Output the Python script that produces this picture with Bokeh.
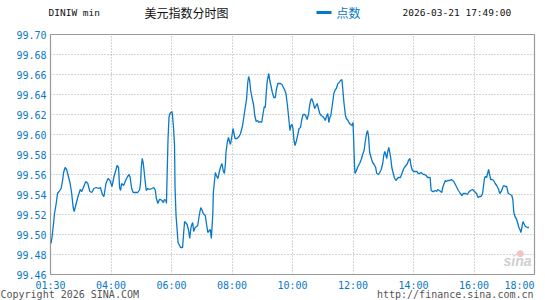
from bokeh.plotting import figure
from bokeh.layouts import column
from bokeh.models import FixedTicker, Label, Range1d, NumeralTickFormatter
from bokeh.core.properties import value
from bokeh.embed import file_html
from bokeh.resources import INLINE

# Intraday quotes of the US dollar index (DINIW), minute of day -> points
minute_of_day = [
    121, 123, 126, 128, 131, 134, 137, 141, 144, 146,
    149, 152, 156, 159, 162, 165, 167, 170, 174, 179,
    182, 186, 190, 194, 198, 202, 206, 211, 215, 219,
    223, 226, 230, 234, 238, 242, 246, 250, 252, 255,
    257, 259, 261, 265, 269, 273, 276, 278, 281, 284,
    288, 293, 297, 299, 300, 302, 304, 306, 308, 310,
    313, 317, 321, 325, 328, 330, 333, 336, 338, 341,
    344, 346, 349, 350, 351, 353, 355, 357, 359, 361,
    362, 364, 366, 367, 369, 371, 373, 375, 378, 382,
    384, 386, 388, 391, 394, 396, 399, 402, 404, 407,
    410, 412, 415, 418, 420, 423, 427, 429, 432, 435,
    437, 439, 442, 443, 445, 447, 449, 452, 455, 457,
    460, 463, 465, 467, 468, 471, 473, 475, 477, 480,
    482, 484, 486, 490, 494, 497, 501, 503, 506, 509,
    511, 513, 515, 517, 520, 523, 525, 528, 531, 533,
    536, 539, 541, 544, 546, 548, 550, 553, 555, 558,
    560, 563, 566, 568, 571, 574, 576, 579, 582, 584,
    587, 590, 592, 595, 597, 599, 601, 603, 605, 608,
    611, 613, 616, 618, 621, 624, 626, 629, 632, 634,
    636, 638, 641, 644, 646, 649, 651, 654, 657, 660,
    662, 665, 668, 670, 672, 674, 676, 678, 680, 682,
    685, 687, 690, 693, 695, 698, 700, 702, 705, 707,
    710, 712, 715, 718, 720, 721, 723, 724, 726, 729,
    732, 734, 737, 739, 742, 744, 747, 749, 751, 753,
    757, 759, 762, 765, 767, 771, 773, 776, 779, 781,
    783, 785, 787, 789, 791, 793, 795, 797, 800, 802,
    805, 808, 810, 814, 817, 820, 822, 825, 828, 830,
    833, 835, 837, 840, 843, 847, 849, 852, 855, 857,
    860, 862, 865, 868, 870, 873, 875, 878, 880, 883,
    886, 888, 891, 894, 896, 898, 900, 903, 905, 908,
    912, 915, 920, 923, 926, 929, 933, 936, 939, 943,
    947, 949, 953, 957, 961, 965, 968, 971, 974, 977,
    979, 981, 983, 985, 987, 989, 991, 993, 996, 999,
    1002, 1005, 1009, 1011, 1014, 1017, 1019, 1022, 1025, 1026,
    1028, 1032, 1035, 1037, 1039, 1042, 1044, 1047, 1049, 1051,
    1053, 1055, 1057, 1060, 1062, 1066, 1069,
]

index_points = [
    99.491, 99.497, 99.511, 99.521, 99.530, 99.541, 99.543, 99.546, 99.554, 99.562,
    99.567, 99.565, 99.557, 99.551, 99.541, 99.527, 99.523, 99.529, 99.537, 99.545,
    99.543, 99.548, 99.553, 99.551, 99.543, 99.542, 99.546, 99.547, 99.546, 99.547,
    99.540, 99.538, 99.551, 99.556, 99.554, 99.548, 99.558, 99.565, 99.569, 99.567,
    99.547, 99.544, 99.551, 99.549, 99.554, 99.558, 99.560, 99.557, 99.546, 99.542,
    99.542, 99.542, 99.545, 99.554, 99.567, 99.576, 99.571, 99.562, 99.552, 99.544,
    99.546, 99.545, 99.546, 99.547, 99.544, 99.536, 99.531, 99.535, 99.535, 99.534,
    99.532, 99.535, 99.534, 99.531, 99.552, 99.594, 99.617, 99.621, 99.622, 99.623,
    99.619, 99.607, 99.589, 99.547, 99.519, 99.506, 99.492, 99.490, 99.487, 99.487,
    99.501, 99.513, 99.512, 99.510, 99.504, 99.496, 99.508, 99.512, 99.503, 99.507,
    99.508, 99.509, 99.519, 99.527, 99.525, 99.521, 99.519, 99.512, 99.502, 99.504,
    99.505, 99.496, 99.521, 99.542, 99.552, 99.562, 99.559, 99.556, 99.563, 99.567,
    99.571, 99.563, 99.561, 99.571, 99.582, 99.593, 99.597, 99.593, 99.590, 99.599,
    99.606, 99.601, 99.596, 99.596, 99.598, 99.601, 99.609, 99.616, 99.626, 99.636,
    99.651, 99.658, 99.654, 99.644, 99.636, 99.629, 99.619, 99.613, 99.614, 99.612,
    99.613, 99.612, 99.619, 99.628, 99.627, 99.642, 99.654, 99.661, 99.654, 99.647,
    99.642, 99.637, 99.637, 99.645, 99.651, 99.651, 99.651, 99.650, 99.647, 99.645,
    99.641, 99.629, 99.619, 99.604, 99.609, 99.610, 99.606, 99.594, 99.589, 99.594,
    99.601, 99.606, 99.607, 99.614, 99.620, 99.620, 99.619, 99.615, 99.621, 99.629,
    99.634, 99.636, 99.632, 99.626, 99.628, 99.631, 99.627, 99.621, 99.619, 99.618,
    99.617, 99.614, 99.619, 99.621, 99.612, 99.617, 99.619, 99.626, 99.633, 99.641,
    99.645, 99.646, 99.651, 99.652, 99.654, 99.655, 99.644, 99.632, 99.619, 99.616,
    99.614, 99.612, 99.610, 99.609, 99.612, 99.599, 99.569, 99.561, 99.563, 99.567,
    99.570, 99.572, 99.576, 99.580, 99.584, 99.592, 99.601, 99.604, 99.597, 99.582,
    99.575, 99.572, 99.570, 99.567, 99.561, 99.560, 99.562, 99.565, 99.571, 99.579,
    99.583, 99.580, 99.576, 99.583, 99.587, 99.582, 99.576, 99.567, 99.561, 99.557,
    99.554, 99.556, 99.557, 99.557, 99.561, 99.565, 99.567, 99.569, 99.571, 99.574,
    99.576, 99.569, 99.565, 99.563, 99.563, 99.563, 99.561, 99.561, 99.562, 99.561,
    99.560, 99.560, 99.559, 99.557, 99.557, 99.557, 99.544, 99.543, 99.543, 99.544,
    99.543, 99.545, 99.544, 99.543, 99.542, 99.547, 99.550, 99.554, 99.553, 99.554,
    99.554, 99.555, 99.553, 99.550, 99.547, 99.544, 99.541, 99.539, 99.541, 99.541,
    99.540, 99.542, 99.544, 99.545, 99.543, 99.541, 99.537, 99.538, 99.538, 99.541,
    99.549, 99.557, 99.558, 99.557, 99.561, 99.565, 99.560, 99.555, 99.555, 99.554,
    99.551, 99.549, 99.545, 99.541, 99.543, 99.547, 99.549, 99.548, 99.548, 99.545,
    99.541, 99.540, 99.539, 99.535, 99.522, 99.517, 99.516, 99.511, 99.507, 99.505,
    99.502, 99.507, 99.513, 99.510, 99.508, 99.507, 99.507,
]

x_tick_minutes = [120, 240, 360, 480, 600, 720, 840, 960, 1080]
x_tick_labels = ["01:30", "04:00", "06:00", "08:00", "10:00", "12:00", "14:00", "16:00", "18:00"]
y_ticks = [99.46, 99.48, 99.50, 99.52, 99.54, 99.56, 99.58, 99.60, 99.62, 99.64, 99.66, 99.68, 99.70]

symbol = "DINIW min"
chart_title = "美元指数分时图"
series_name = "点数"
stamp = "2026-03-21 17:49:00"
copyright_text = "Copyright 2026 SINA.COM"
site_text = "http://finance.sina.com.cn"

BLUE = "#0a78c8"
MONO = "DejaVu Sans Mono"
CJK = "Noto Sans CJK SC"
W = 545
LEFT, RIGHT = 50, 11           # side margins around the plot frame
TOP, BOTTOM = 6, 5             # room for the outer y labels
HEAD_H, FOOT_H = 28, 21
MAIN_H = TOP + 240 + BOTTOM
X0, X1 = 120, 1080             # 02:00 .. 18:00 in minutes


def bare_figure(height, x_range, y_range):
    f = figure(width=W, height=height, output_backend="svg", toolbar_location=None,
               x_range=x_range, y_range=y_range,
               x_axis_location=None, y_axis_location=None, frame_align=False,
               min_border=0, min_border_left=0, min_border_right=0,
               min_border_top=0, min_border_bottom=0,
               background_fill_color="white", border_fill_color="white")
    f.outline_line_color = None
    f.grid.visible = False
    return f


# ---- header: symbol, title, legend key, timestamp (pixel-like coordinates)
head = bare_figure(HEAD_H, Range1d(0, W), Range1d(HEAD_H, 0))
head.text(x=[48], y=[12], text=[symbol], text_font=value(MONO), text_font_size="9.5px",
          text_color="#111111", text_baseline="middle")
head.text(x=[144], y=[12], text=[chart_title], text_font=value(CJK), text_font_size="12px",
          text_color="#111111", text_baseline="middle")
head.segment(x0=[316], y0=[12], x1=[331], y1=[12], line_color=BLUE, line_width=3)
head.text(x=[336], y=[12], text=[series_name], text_font=value(CJK), text_font_size="12px",
          text_color=BLUE, text_baseline="middle")
head.text(x=[402], y=[12], text=[stamp], text_font=value(MONO), text_font_size="9.5px",
          text_color="#111111", text_baseline="middle")

# ---- main plot
p = figure(
    width=W, height=MAIN_H,
    output_backend="svg", toolbar_location=None,
    x_range=Range1d(X0, X1), y_range=Range1d(99.46, 99.70),
    x_axis_location=None, frame_align=False,
    min_border_left=LEFT, min_border_right=RIGHT, min_border_top=TOP, min_border_bottom=BOTTOM,
    background_fill_color="white", border_fill_color="white",
)
p.outline_line_color = "#9a9a9a"
p.outline_line_width = 1.2

p.yaxis.ticker = FixedTicker(ticks=y_ticks)
p.yaxis.formatter = NumeralTickFormatter(format="0.00")
p.yaxis.major_label_text_color = BLUE
p.yaxis.major_label_text_font = MONO
p.yaxis.major_label_text_font_size = "10px"
p.yaxis.major_label_standoff = 4
p.yaxis.axis_line_color = None
p.yaxis.major_tick_line_color = None
p.yaxis.minor_tick_line_color = None
p.yaxis.major_tick_out = 0
p.yaxis.major_tick_in = 0

p.xgrid.ticker = FixedTicker(ticks=x_tick_minutes)
p.xgrid.grid_line_color = "#aaaaaa"
p.ygrid.grid_line_color = "#aaaaaa"
p.xgrid.grid_line_dash = "1 2"
p.ygrid.grid_line_dash = "1 2"

p.line(minute_of_day, index_points, line_color=BLUE, line_width=1.3)

# watermark in the lower right corner
p.add_layout(Label(x=481, y=6, x_units="screen", y_units="screen", text="sina",
                   text_align="right", text_baseline="bottom",
                   text_font="Liberation Sans", text_font_style="bold italic",
                   text_font_size="14px", text_color="#cfcfcf"))
p.add_layout(Label(x=470, y=17, x_units="screen", y_units="screen", text="●",
                   text_align="center", text_baseline="bottom",
                   text_font="DejaVu Sans", text_font_size="9px", text_color="#f2c4c4"))

# ---- footer: time labels share the main x scale, stretched over the full width
per_px = (X1 - X0) / (W - LEFT - RIGHT)
foot = bare_figure(FOOT_H, Range1d(X0 - LEFT * per_px, X1 + RIGHT * per_px), Range1d(FOOT_H, 0))
foot.text(x=x_tick_minutes[:-1], y=[0] * (len(x_tick_minutes) - 1), text=x_tick_labels[:-1],
          text_font=value(MONO), text_font_size="10px", text_color=BLUE,
          text_align="center", text_baseline="top")
foot.text(x=x_tick_minutes[-1:], y=[0], text=x_tick_labels[-1:],
          text_font=value(MONO), text_font_size="10px", text_color=BLUE,
          text_align="right", text_baseline="top")
foot.text(x=[X0 - LEFT * per_px], y=[14.5], text=[copyright_text],
          text_font=value(MONO), text_font_size="10px", text_color="#555555",
          text_align="left", text_baseline="middle")
foot.text(x=[X1 - per_px], y=[14.5], text=[site_text],
          text_font=value(MONO), text_font_size="10px", text_color="#555555",
          text_align="right", text_baseline="middle")

layout = column(head, p, foot, spacing=0)
open("out.html", "w").write(file_html(layout, INLINE))
